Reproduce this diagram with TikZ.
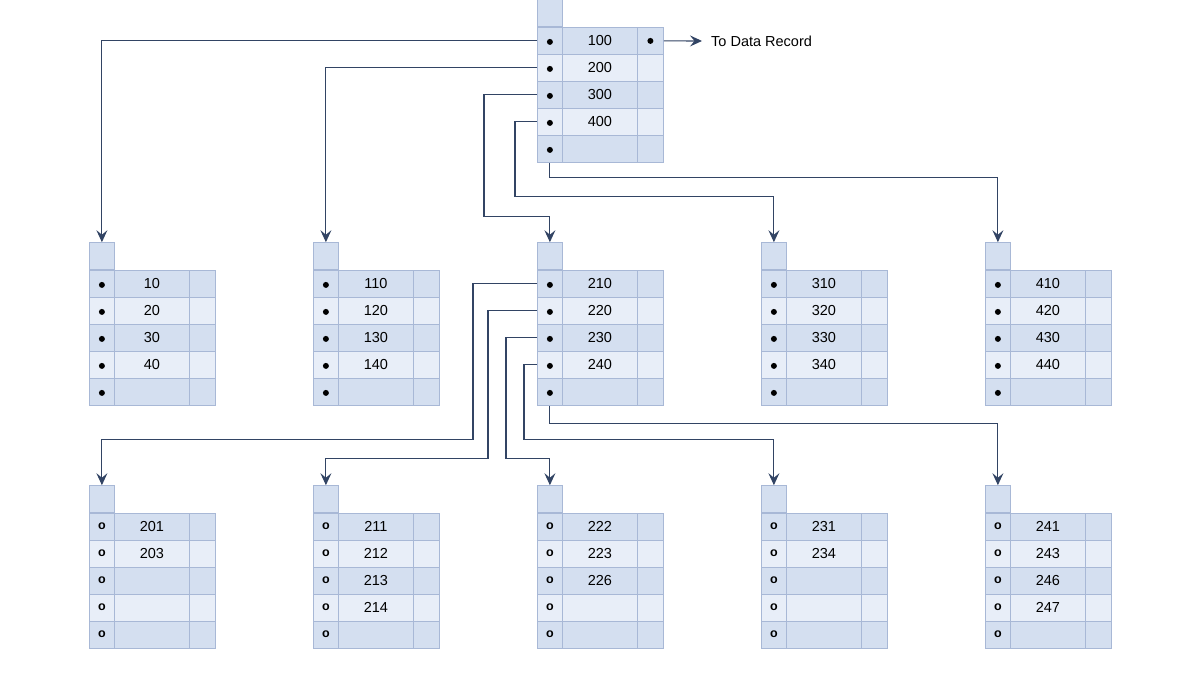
\documentclass[tikz,border=0pt]{standalone}
\usepackage{fontspec}
\setmainfont{Liberation Sans}
\usetikzlibrary{arrows.meta}

\definecolor{celldark}{RGB}{212,223,240}
\definecolor{celllight}{RGB}{232,238,248}
\definecolor{cellline}{RGB}{168,184,214}
\definecolor{linkcol}{RGB}{50,68,100}

\tikzset{
  cell/.style={draw=cellline, line width=0.8pt, rectangle, inner sep=0pt,
    minimum height=27pt, anchor=north west},
  link/.style={draw=linkcol, line width=1.1pt,
    -{Stealth[length=12pt,width=11pt,inset=4.5pt]}},
  % pointer marks
  ptrdot/.style={path picture={
    \fill[black] ([yshift=-1pt]path picture bounding box.center) circle (3pt);}},
  ptrring/.style={label={[inner sep=0pt, yshift=0.5pt]center:{\fontsize{12.5}{14}\selectfont\bfseries o}}},
}

% one page of the tree: name, left x, top of first row, keys, pointer mark
\newcommand{\bpage}[5]{
  \node[cell, fill=celldark, minimum width=25pt, anchor=south west] (#1-s) at (#2,#3) {};
  \foreach \k [count=\i] in {#4} {
    \ifodd\i \def\rowcol{celldark}\else\def\rowcol{celllight}\fi
    \node[cell, fill=\rowcol, minimum width=25pt, #5] (#1-p\i) at (#2, #3+27*\i-27) {};
    \node[cell, fill=\rowcol, minimum width=75pt] (#1-k\i) at (#2+25, #3+27*\i-27) {\k};
    \node[cell, fill=\rowcol, minimum width=26pt] (#1-r\i) at (#2+100, #3+27*\i-27) {};
  }
}

\begin{document}
\begin{tikzpicture}[x=1pt, y=-1pt, font=\fontsize{14.5}{17}\selectfont]
    \useasboundingbox (0,0) rectangle (1200,675);

    % root
    \bpage{root}{537}{27}{100,200,300,400,{}}{ptrdot}
    \fill[yshift=-1pt] (root-r1.center) circle (3pt);
    \node[anchor=west, inner sep=0pt] (rec) at (711,41) {To Data Record};

    % second level
    \bpage{c1}{89}{270}{10,20,30,40,{}}{ptrdot}
    \bpage{c2}{313}{270}{110,120,130,140,{}}{ptrdot}
    \bpage{c3}{537}{270}{210,220,230,240,{}}{ptrdot}
    \bpage{c4}{761}{270}{310,320,330,340,{}}{ptrdot}
    \bpage{c5}{985}{270}{410,420,430,440,{}}{ptrdot}

    % leaves
    \bpage{g1}{89}{513}{201,203,{},{},{}}{ptrring}
    \bpage{g2}{313}{513}{211,212,213,214,{}}{ptrring}
    \bpage{g3}{537}{513}{222,223,226,{},{}}{ptrring}
    \bpage{g4}{761}{513}{231,234,{},{},{}}{ptrring}
    \bpage{g5}{985}{513}{241,243,246,247,{}}{ptrring}

    % pointers from the root
    \draw[link] (root-p1.west) -| (c1-s.north);
    \draw[link] (root-p2.west) -| (c2-s.north);
    \draw[link] (root-p3.west) -| ++(-53,122) -| (c3-s.north);
    \draw[link] (root-p4.west) -| ++(-22,75) -| (c4-s.north);
    \draw[link] (root-p5.south) -- ++(0,15) -| (c5-s.north);
    \draw[link, shorten >=9pt] (root-r1.east) -- (rec.west);

    % pointers from 210..240
    \draw[link] (c3-p1.west) -| ++(-64,156) -| (g1-s.north);
    \draw[link] (c3-p2.west) -| ++(-49,148) -| (g2-s.north);
    \draw[link] (c3-p3.west) -| ++(-31,121) -| (g3-s.north);
    \draw[link] (c3-p4.west) -| ++(-13,75) -| (g4-s.north);
    \draw[link] (c3-p5.south) -- ++(0,18) -| (g5-s.north);
\end{tikzpicture}
\end{document}
